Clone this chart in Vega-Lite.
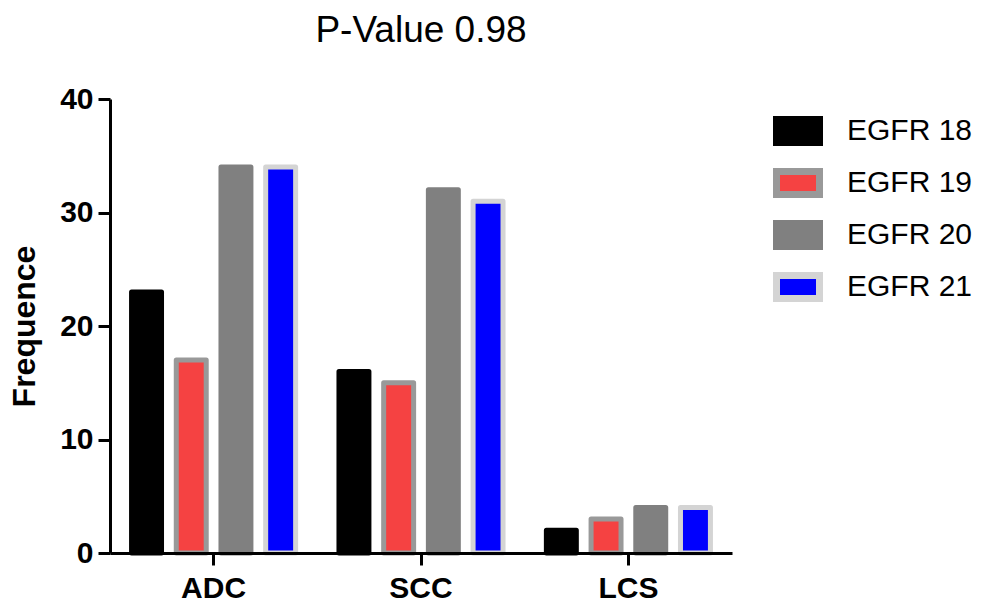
{
  "$schema": "https://vega.github.io/schema/vega-lite/v6.json",
  "autosize": {"type": "none"},
  "width": 622,
  "height": 454,
  "padding": {"left": 110, "top": 99, "right": 253, "bottom": 54},
  "background": "white",
  "title": {"text": "P-Value 0.98", "fontSize": 37, "font": "Liberation Sans", "fontWeight": "normal", "color": "black", "anchor": "middle", "baseline": "alphabetic", "offset": 5},
  "data": {"values": [
    {"group": "ADC", "series": "EGFR 18", "value": 23},
    {"group": "ADC", "series": "EGFR 19", "value": 17},
    {"group": "ADC", "series": "EGFR 20", "value": 34},
    {"group": "ADC", "series": "EGFR 21", "value": 34},
    {"group": "SCC", "series": "EGFR 18", "value": 16},
    {"group": "SCC", "series": "EGFR 19", "value": 15},
    {"group": "SCC", "series": "EGFR 20", "value": 32},
    {"group": "SCC", "series": "EGFR 21", "value": 31},
    {"group": "LCS", "series": "EGFR 18", "value": 2},
    {"group": "LCS", "series": "EGFR 19", "value": 3},
    {"group": "LCS", "series": "EGFR 20", "value": 4},
    {"group": "LCS", "series": "EGFR 21", "value": 4}
  ]},
  "mark": {"type": "bar", "strokeWidth": 5, "strokeJoin": "round"},
  "encoding": {
    "x": {"field": "group", "type": "nominal", "sort": ["ADC", "SCC", "LCS"],
      "scale": {"paddingInner": 0.209, "paddingOuter": 0.104},
      "axis": {"title": null, "labelAngle": 0, "labelFont": "Liberation Sans", "labelFontSize": 30, "labelFontWeight": "bold", "labelColor": "black", "labelPadding": 8, "domainColor": "black", "domainWidth": 3, "tickColor": "black", "tickWidth": 3, "tickSize": 12, "zindex": 1}},
    "xOffset": {"field": "series", "type": "nominal", "scale": {"paddingInner": 0.33, "paddingOuter": 0}},
    "y": {"field": "value", "type": "quantitative",
      "scale": {"domain": [0, 40], "nice": false},
      "axis": {"title": "Frequence", "values": [0, 10, 20, 30, 40], "grid": false, "titleFont": "Liberation Sans", "titleFontSize": 32, "titleFontWeight": "bold", "titleColor": "black", "titlePadding": 18, "labelFont": "Liberation Sans", "labelFontSize": 30, "labelFontWeight": "bold", "labelColor": "black", "labelPadding": 5, "domainColor": "black", "domainWidth": 3, "tickColor": "black", "tickWidth": 3, "tickSize": 12, "zindex": 1}},
    "fill": {"field": "series", "type": "nominal",
      "scale": {"domain": ["EGFR 18", "EGFR 19", "EGFR 20", "EGFR 21"], "range": ["#000000", "#f54242", "#808080", "#0000fe"]},
      "legend": {"title": null, "orient": "none", "legendX": 663, "legendY": 7, "symbolType": "M-1,-0.535H1V0.535H-1Z", "symbolSize": 1849, "symbolStrokeWidth": 7, "symbolOpacity": 1, "labelFont": "Liberation Sans", "labelFontSize": 30, "labelColor": "black", "labelOffset": 24, "rowPadding": 0}},
    "stroke": {"field": "series", "type": "nominal",
      "scale": {"domain": ["EGFR 18", "EGFR 19", "EGFR 20", "EGFR 21"], "range": ["#000000", "#999999", "#808080", "#d4d4d4"]},
      "legend": {"title": null, "orient": "none", "legendX": 663, "legendY": 7, "symbolType": "M-1,-0.535H1V0.535H-1Z", "symbolSize": 1849, "symbolStrokeWidth": 7, "symbolOpacity": 1, "labelFont": "Liberation Sans", "labelFontSize": 30, "labelColor": "black", "labelOffset": 24, "rowPadding": 0}}
  },
  "config": {"view": {"stroke": null}}
}
